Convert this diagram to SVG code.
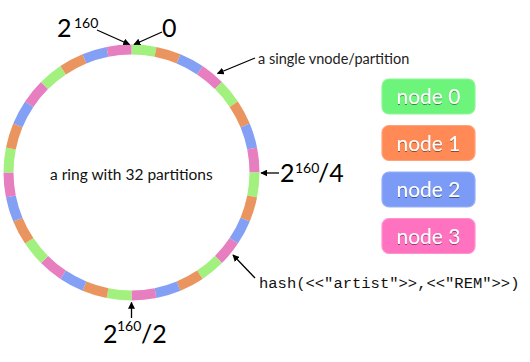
<svg xmlns="http://www.w3.org/2000/svg" width="530" height="362" viewBox="0 0 530 362">
<style>
.seg{fill:none;stroke-width:10;stroke-linecap:butt}
.g{stroke:#a2f07e}.o{stroke:#ea955f}.b{stroke:#83a0f5}.p{stroke:#e67ec0}
.lbl{font-family:Lato,"Open Sans","Liberation Sans",sans-serif;fill:#000}
.big{font-size:25px}.sup{font-size:14px}
.small{font-size:14.5px;fill:#222}
.mono{font-family:"Liberation Mono","DejaVu Sans Mono",monospace;font-size:15.5px;fill:#111}
.arrow{stroke:#000;stroke-width:1.3;fill:none;marker-end:url(#ah)}
.box{stroke-width:1.2}
.ntext{font-family:Lato,"Open Sans","Liberation Sans",sans-serif;font-size:21px;fill:#fff;text-anchor:middle;filter:url(#sh)}
</style>
<defs>
<marker id="ah" viewBox="0 0 10 10" refX="9" refY="5" markerWidth="7" markerHeight="7" markerUnits="userSpaceOnUse" orient="auto">
<path d="M0,0 L10,5 L0,10 z" fill="#000"/>
</marker>
<filter id="sh" x="-20%" y="-20%" width="140%" height="140%">
<feDropShadow dx="0" dy="1" stdDeviation="0.6" flood-color="#000" flood-opacity="0.45"/>
</filter>
</defs>
<g id="ring">
<path class="seg g" d="M131.5,49.5 A123,123 0 0 1 155.5,51.86"/>
<path class="seg o" d="M155.5,51.86 A123,123 0 0 1 178.57,58.86"/>
<path class="seg b" d="M178.57,58.86 A123,123 0 0 1 199.84,70.23"/>
<path class="seg p" d="M199.84,70.23 A123,123 0 0 1 218.47,85.53"/>
<path class="seg g" d="M218.47,85.53 A123,123 0 0 1 233.77,104.17"/>
<path class="seg o" d="M233.77,104.17 A123,123 0 0 1 245.14,125.43"/>
<path class="seg b" d="M245.14,125.43 A123,123 0 0 1 252.14,148.5"/>
<path class="seg p" d="M252.14,148.5 A123,123 0 0 1 254.5,172.5"/>
<path class="seg g" d="M254.5,172.5 A123,123 0 0 1 252.14,196.5"/>
<path class="seg o" d="M252.14,196.5 A123,123 0 0 1 245.14,219.57"/>
<path class="seg b" d="M245.14,219.57 A123,123 0 0 1 233.77,240.84"/>
<path class="seg p" d="M233.77,240.84 A123,123 0 0 1 218.47,259.47"/>
<path class="seg g" d="M218.47,259.47 A123,123 0 0 1 199.84,274.77"/>
<path class="seg o" d="M199.84,274.77 A123,123 0 0 1 178.57,286.14"/>
<path class="seg b" d="M178.57,286.14 A123,123 0 0 1 155.5,293.14"/>
<path class="seg p" d="M155.5,293.14 A123,123 0 0 1 131.5,295.5"/>
<path class="seg g" d="M131.5,295.5 A123,123 0 0 1 107.5,293.14"/>
<path class="seg o" d="M107.5,293.14 A123,123 0 0 1 84.43,286.14"/>
<path class="seg b" d="M84.43,286.14 A123,123 0 0 1 63.16,274.77"/>
<path class="seg p" d="M63.16,274.77 A123,123 0 0 1 44.53,259.47"/>
<path class="seg g" d="M44.53,259.47 A123,123 0 0 1 29.23,240.84"/>
<path class="seg o" d="M29.23,240.84 A123,123 0 0 1 17.86,219.57"/>
<path class="seg b" d="M17.86,219.57 A123,123 0 0 1 10.86,196.5"/>
<path class="seg p" d="M10.86,196.5 A123,123 0 0 1 8.5,172.5"/>
<path class="seg g" d="M8.5,172.5 A123,123 0 0 1 10.86,148.5"/>
<path class="seg o" d="M10.86,148.5 A123,123 0 0 1 17.86,125.43"/>
<path class="seg b" d="M17.86,125.43 A123,123 0 0 1 29.23,104.17"/>
<path class="seg p" d="M29.23,104.17 A123,123 0 0 1 44.53,85.53"/>
<path class="seg g" d="M44.53,85.53 A123,123 0 0 1 63.16,70.23"/>
<path class="seg o" d="M63.16,70.23 A123,123 0 0 1 84.43,58.86"/>
<path class="seg b" d="M84.43,58.86 A123,123 0 0 1 107.5,51.86"/>
<path class="seg p" d="M107.5,51.86 A123,123 0 0 1 131.5,49.5"/>
<text class="lbl small" x="50" y="180" style="fill:#111;font-size:15.5px">a ring with 32 partitions</text>
</g>
<g id="connectors">
<line class="arrow" x1="97" y1="30" x2="129.5" y2="44.5"/>
<line class="arrow" x1="162" y1="32" x2="134" y2="44.5"/>
<line class="arrow" x1="255" y1="58" x2="217.5" y2="73.5"/>
<line class="arrow" x1="279" y1="173" x2="261" y2="173"/>
<line class="arrow" x1="255" y1="278" x2="233" y2="255"/>
<line class="arrow" x1="131.5" y1="318" x2="131.5" y2="302.5"/>
</g>
<g id="labels">
<text class="lbl big" x="57" y="37">2<tspan class="sup" x="74" y="28">160</tspan></text>
<text class="lbl big" x="162" y="37">0</text>
<text class="lbl small" x="258" y="64">a single vnode/partition</text>
<text class="lbl big" x="280" y="182">2<tspan class="sup" x="295" y="173">160</tspan><tspan x="318" y="182">/4</tspan></text>
<text class="mono" x="259" y="288">hash(&lt;&lt;"artist"&gt;&gt;,&lt;&lt;"REM"&gt;&gt;)</text>
<text class="lbl big" x="103" y="343">2<tspan class="sup" x="117" y="331">160</tspan><tspan x="141" y="343">/2</tspan></text>
</g>
<g id="node0">
<rect class="box" x="382" y="79" width="93" height="35" rx="7" fill="#6df47b" stroke="#8cf795"/>
<text class="ntext" x="428.5" y="104">node 0</text>
</g>
<g id="node1">
<rect class="box" x="382" y="125.5" width="93" height="35" rx="7" fill="#ff8a56" stroke="#ffa37a"/>
<text class="ntext" x="428.5" y="150.5">node 1</text>
</g>
<g id="node2">
<rect class="box" x="382" y="172" width="93" height="35" rx="7" fill="#7c9bf6" stroke="#98b0f8"/>
<text class="ntext" x="428.5" y="197">node 2</text>
</g>
<g id="node3">
<rect class="box" x="382" y="218.5" width="93" height="35" rx="7" fill="#ff72c0" stroke="#ff92cf"/>
<text class="ntext" x="428.5" y="243.5">node 3</text>
</g>
</svg>
